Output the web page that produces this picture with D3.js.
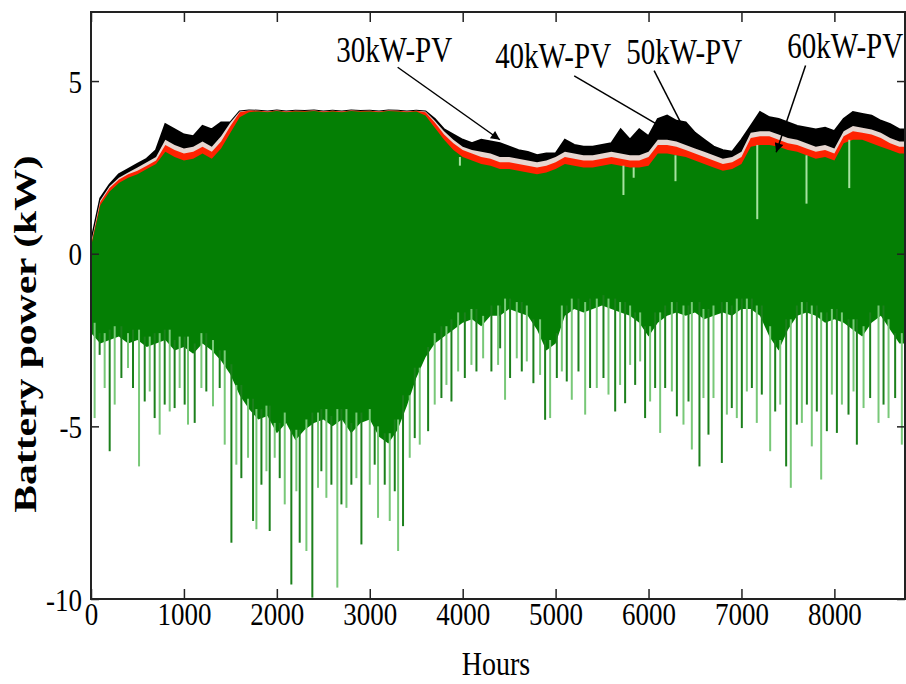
<!DOCTYPE html>
<html>
<head>
<meta charset="utf-8">
<script src="https://cdn.jsdelivr.net/npm/d3@7"></script>
<style>
  body { margin: 0; background: #fff; }
  svg { display: block; }
</style>
</head>
<body>
<div id="chart"></div>
<script>
// hour of each reading (every 100 h)
var binHours = [0,100,200,300,400,500,600,700,800,900,1000,1100,1200,1300,1400,1500,1600,1700,1800,1900,
  2000,2100,2200,2300,2400,2500,2600,2700,2800,2900,3000,3100,3200,3300,3400,3500,3600,3700,3800,3900,
  4000,4100,4200,4300,4400,4500,4600,4700,4800,4900,5000,5100,5200,5300,5400,5500,5600,5700,5800,5900,
  6000,6100,6200,6300,6400,6500,6600,6700,6800,6900,7000,7100,7200,7300,7400,7500,7600,7700,7800,7900,
  8000,8100,8200,8300,8400,8500,8600,8700];

// upper envelope (kW) of each PV case
var pv30Top = [0.2,1.4,1.8,2.05,2.2,2.3,2.45,2.6,2.95,2.8,2.7,2.75,2.9,2.75,3.05,3.5,3.95,4.1,4.12,4.1,
  4.13,4.1,4.12,4.11,4.13,4.1,4.12,4.1,4.13,4.11,4.12,4.1,4.13,4.12,4.1,4.12,4.0,3.65,3.3,3.0,
  2.8,2.7,2.6,2.55,2.45,2.45,2.4,2.35,2.3,2.35,2.45,2.6,2.55,2.5,2.5,2.55,2.6,2.55,2.5,2.5,
  2.55,2.9,2.9,2.85,2.8,2.7,2.6,2.5,2.4,2.45,2.6,3.1,3.15,3.15,3.1,3.0,2.95,2.85,2.75,2.8,
  2.7,3.2,3.3,3.3,3.2,3.1,3.0,2.9];
var pv40Top = [0.25,1.5,1.9,2.15,2.3,2.4,2.55,2.7,3.15,3.0,2.9,2.95,3.1,2.95,3.25,3.7,4.1,4.15,4.14,4.12,
  4.15,4.12,4.14,4.13,4.15,4.12,4.14,4.12,4.15,4.13,4.14,4.12,4.15,4.14,4.12,4.14,4.1,3.8,3.45,3.2,
  3.0,2.9,2.8,2.75,2.65,2.65,2.6,2.55,2.5,2.55,2.65,2.8,2.75,2.7,2.7,2.75,2.8,2.75,2.7,2.7,
  2.8,3.15,3.15,3.1,3.0,2.9,2.8,2.7,2.6,2.65,2.8,3.35,3.4,3.4,3.3,3.2,3.15,3.05,2.95,3.0,
  2.9,3.4,3.55,3.5,3.45,3.35,3.2,3.1];
var pv50Top = [0.3,1.55,1.95,2.2,2.35,2.5,2.65,2.8,3.3,3.15,3.05,3.1,3.25,3.1,3.4,3.8,4.12,4.15,4.14,4.12,
  4.15,4.12,4.14,4.13,4.15,4.12,4.14,4.12,4.15,4.13,4.14,4.12,4.15,4.14,4.12,4.14,4.12,3.85,3.55,3.3,
  3.1,3.0,2.95,2.9,2.8,2.8,2.75,2.7,2.65,2.7,2.8,2.95,2.9,2.85,2.85,2.9,2.95,2.9,2.85,2.85,
  2.95,3.3,3.3,3.25,3.15,3.05,2.95,2.85,2.75,2.8,2.95,3.5,3.55,3.55,3.45,3.35,3.3,3.2,3.1,3.15,
  3.05,3.55,3.7,3.65,3.6,3.5,3.35,3.25];
var pv60Top = [0.35,1.6,2.0,2.3,2.45,2.6,2.75,3.0,3.75,3.6,3.45,3.4,3.7,3.6,3.8,3.8,4.12,4.15,4.14,4.12,
  4.15,4.12,4.14,4.13,4.15,4.12,4.14,4.12,4.15,4.13,4.14,4.12,4.15,4.14,4.12,4.14,4.12,3.9,3.6,3.45,
  3.3,3.2,3.3,3.25,3.2,3.1,3.0,2.95,2.85,2.9,2.9,3.3,3.15,3.1,3.1,3.15,3.2,3.6,3.3,3.6,
  3.4,3.9,4.0,3.85,3.8,3.5,3.3,3.1,3.0,2.95,3.3,3.7,4.1,3.95,3.9,3.8,3.7,3.65,3.6,3.65,
  3.55,3.9,4.1,4.05,4.0,3.85,3.75,3.6];

// lower edge of the solid discharge band (kW)
var solidBottom = [-2.3,-2.6,-2.5,-2.4,-2.6,-2.5,-2.7,-2.6,-2.5,-2.8,-2.7,-2.9,-2.6,-2.8,-3.1,-3.5,-4.1,-4.5,-4.8,-4.7,
  -5.2,-4.9,-5.4,-5.1,-4.9,-4.8,-5.0,-4.8,-5.2,-4.9,-4.8,-5.3,-5.5,-5.1,-4.4,-3.6,-3.0,-2.6,-2.4,-2.2,
  -2.0,-1.9,-2.1,-1.8,-1.8,-1.6,-1.7,-1.8,-2.2,-2.8,-2.6,-1.8,-1.6,-1.7,-1.6,-1.5,-1.6,-1.7,-1.8,-2.0,
  -2.4,-2.0,-1.8,-1.7,-1.8,-1.7,-1.9,-1.8,-1.7,-1.8,-1.6,-1.6,-1.8,-2.4,-2.8,-2.2,-1.8,-1.7,-1.8,-2.0,
  -1.9,-2.0,-2.2,-2.4,-2.0,-1.8,-2.2,-2.6];

// single discharge peaks below the band
var spikeHours = [39,93,147,201,255,327,398,452,517,578,632,685,739,793,847,900,954,1008,1044,1116,
  1188,1241,1313,1385,1439,1511,1564,1618,1690,1744,1780,1834,1888,1923,1977,2031,2085,2156,2210,2246,
  2318,2382,2443,2479,2533,2587,2651,2695,2749,2802,2856,2910,3000,3053,3089,3161,3215,3269,3305,3358,
  3430,3484,3538,3628,3699,3771,3825,3879,3951,4023,4094,4148,4220,4309,4381,4403,4456,4510,4582,4636,
  4690,4761,4833,4887,4941,5013,5067,5120,5174,5246,5318,5371,5443,5515,5569,5641,5694,5748,5802,5856,
  5910,5963,6017,6071,6125,6179,6251,6305,6376,6430,6466,6548,6591,6645,6699,6789,6843,6896,6950,7004,
  7058,7112,7165,7219,7309,7363,7417,7481,7531,7596,7650,7704,7757,7811,7858,7919,7973,8027,8081,8152,
  8206,8242,8314,8385,8475,8529,8583,8654,8726];
var spikeMins = [-4.76,-2.93,-3.89,-5.72,-4.37,-3.6,-3.31,-3.89,-6.16,-4.28,-3.99,-4.76,-5.24,-4.37,-4.57,-4.47,-3.89,-4.37,-4.95,-4.9,
  -3.89,-3.99,-4.42,-3.89,-5.53,-8.37,-6.11,-6.5,-5.91,-7.74,-7.98,-6.69,-6.3,-8.03,-5.91,-6.5,-7.26,-9.58,-6.88,-8.37,
  -8.61,-9.96,-6.78,-6.3,-7.07,-6.69,-9.67,-7.26,-7.36,-6.69,-6.5,-8.42,-6.69,-6.11,-7.65,-6.69,-7.74,-6.88,-8.61,-7.89,
  -5.91,-5.34,-5.53,-5.14,-4.37,-4.18,-3.8,-4.28,-3.41,-3.6,-3.22,-3.41,-3.03,-3.41,-3.22,-2.74,-4.23,-3.6,-3.03,-3.41,
  -3.12,-3.75,-3.51,-4.81,-4.76,-3.6,-3.41,-3.7,-4.23,-3.41,-4.66,-3.89,-3.89,-3.6,-4.08,-4.57,-3.8,-4.33,-3.22,-3.8,
  -3.12,-4.76,-4.28,-3.89,-5.19,-3.89,-3.99,-4.71,-4.95,-4.28,-5.67,-6.16,-4.18,-5.24,-4.18,-6.06,-4.66,-4.47,-4.76,-5.05,
  -3.99,-3.89,-4.9,-4.08,-5.72,-4.57,-4.37,-6.16,-6.78,-4.95,-4.9,-4.37,-5.58,-4.57,-6.54,-5.14,-4.08,-5.19,-4.37,-4.66,
  -3.99,-5.53,-4.47,-4.18,-4.9,-4.37,-4.76,-4.18,-5.53];

// short dips from the top of the band
var dipHours = [3970,5730,5840,6290,7170,7700,8160];
var dipMins = [2.55,1.7,2.2,2.1,1.0,1.45,1.9];

// annotations: label, text anchor (h, kW), arrow start and tip (h, kW)
var labels = ["30kW-PV","40kW-PV","50kW-PV","60kW-PV"];
var labelHours = [3262,4973,6383,8116];
var labelKw = [5.55,5.38,5.49,5.67];
var arrowFrom = [[3300,5.4],[5200,5.15],[6060,5.3],[7690,5.45]];
var arrowTo = [[4400,3.3],[6286,3.44],[6469,3.15],[7374,2.94]];

var xTicks = [0,1000,2000,3000,4000,5000,6000,7000,8000];
var yTicks = [-10,-5,0,5];

var svgWidth = 906, svgHeight = 684;
var margin = {top: 12, right: 1, bottom: 85, left: 91};
var width = svgWidth - margin.left - margin.right;
var height = svgHeight - margin.top - margin.bottom;

var serif = "'Liberation Serif', 'Times New Roman', serif";

var svg = d3.select("#chart")
  .append("svg")
  .attr("width", svgWidth)
  .attr("height", svgHeight);

var chartGroup = svg.append("g")
  .attr("transform", `translate(${margin.left}, ${margin.top})`);

var xScale = d3.scaleLinear().domain([0, 8760]).range([0, width]);
var yScale = d3.scaleLinear().domain([-10, 7]).range([height, 0]);

// readings plus a closing point at the end of the year
var bins = binHours.map(function(h, i) {
  return {h: h, b: solidBottom[i], t30: pv30Top[i], t40: pv40Top[i], t50: pv50Top[i], t60: pv60Top[i]};
});
bins.push(Object.assign({}, bins[bins.length - 1], {h: 8760}));

var plot = chartGroup.append("g");

function topArea(key) {
  return d3.area()
    .x(d => xScale(d.h))
    .y0(d => yScale(0))
    .y1(d => yScale(d[key]));
}

// stacked envelopes, largest PV first
plot.append("path").datum(bins).attr("d", topArea("t60"))
  .attr("fill", "#000").attr("stroke", "#000").attr("stroke-width", 2);
plot.append("path").datum(bins).attr("d", topArea("t50"))
  .attr("fill", "#e6d6d0");
plot.append("path").datum(bins).attr("d", topArea("t40"))
  .attr("fill", "#ff2200");

var band = d3.area()
  .x(d => xScale(d.h))
  .y0(d => yScale(d.b))
  .y1(d => yScale(d.t30));

plot.append("path").datum(bins).attr("d", band).attr("fill", "#047f04");

// discharge spikes
plot.selectAll("line.spike")
  .data(spikeHours)
  .enter()
  .append("line")
  .attr("class", "spike")
  .attr("x1", d => xScale(d))
  .attr("x2", d => xScale(d))
  .attr("y1", d => yScale(solidBottom[Math.min(87, Math.round(d / 100))] + 0.3))
  .attr("y2", (d, i) => yScale(spikeMins[i]))
  .attr("stroke", (d, i) => i % 2 ? "#1c801c" : "#78c878")
  .attr("stroke-width", 2);

// light dips from the band top
plot.selectAll("line.dip")
  .data(dipHours)
  .enter()
  .append("line")
  .attr("class", "dip")
  .attr("x1", d => xScale(d))
  .attr("x2", d => xScale(d))
  .attr("y1", d => yScale(pv30Top[Math.round(d / 100)]))
  .attr("y2", (d, i) => yScale(dipMins[i]))
  .attr("stroke", "#a6e2a0")
  .attr("stroke-width", 2);

// axes on all four sides, ticks pointing inwards
var fmt = d => d < 0 ? "-" + Math.abs(d) : String(d);

var xAxis = chartGroup.append("g")
  .attr("transform", `translate(0, ${height})`)
  .call(d3.axisBottom(xScale).tickValues(xTicks).tickFormat(fmt).tickSizeInner(-10).tickSizeOuter(0));
chartGroup.append("g")
  .call(d3.axisTop(xScale).tickValues(xTicks).tickFormat("").tickSizeInner(-10).tickSizeOuter(0));
var yAxis = chartGroup.append("g")
  .call(d3.axisLeft(yScale).tickValues(yTicks).tickFormat(fmt).tickSizeInner(-8).tickSizeOuter(0));
chartGroup.append("g")
  .attr("transform", `translate(${width}, 0)`)
  .call(d3.axisRight(yScale).tickValues(yTicks).tickFormat("").tickSizeInner(-8).tickSizeOuter(0));

chartGroup.selectAll(".domain").remove();
chartGroup.selectAll(".tick line").attr("stroke", "#222").attr("stroke-width", 1.5);

xAxis.selectAll("text")
  .attr("y", null).attr("dy", null)
  .attr("transform", "translate(0, 26) scale(1, 1.2)")
  .attr("font-family", serif)
  .attr("font-size", "27px")
  .attr("fill", "#000");

yAxis.selectAll("text")
  .attr("x", null).attr("dy", null)
  .attr("transform", "translate(-9, 11) scale(1, 1.2)")
  .attr("font-family", serif)
  .attr("font-size", "27px")
  .attr("fill", "#000");

chartGroup.append("rect")
  .attr("width", width)
  .attr("height", height)
  .attr("fill", "none")
  .attr("stroke", "#222")
  .attr("stroke-width", 2);

// arrows and labels
svg.append("defs").append("marker")
  .attr("id", "head")
  .attr("viewBox", "0 0 10 10")
  .attr("refX", 10).attr("refY", 5)
  .attr("markerWidth", 15).attr("markerHeight", 9)
  .attr("markerUnits", "userSpaceOnUse")
  .attr("orient", "auto")
  .append("path")
  .attr("d", "M0,0 L10,5 L0,10 z")
  .attr("fill", "#000");

chartGroup.selectAll("line.arrow")
  .data(arrowFrom)
  .enter()
  .append("line")
  .attr("class", "arrow")
  .attr("x1", d => xScale(d[0]))
  .attr("y1", d => yScale(d[1]))
  .attr("x2", (d, i) => xScale(arrowTo[i][0]))
  .attr("y2", (d, i) => yScale(arrowTo[i][1]))
  .attr("stroke", "#000")
  .attr("stroke-width", 1.5)
  .attr("marker-end", "url(#head)");

chartGroup.selectAll("text.pv")
  .data(labels)
  .enter()
  .append("text")
  .attr("class", "pv")
  .attr("transform", (d, i) => `translate(${xScale(labelHours[i])}, ${yScale(labelKw[i])}) scale(1, 1.2)`)
  .attr("text-anchor", "middle")
  .attr("font-family", serif)
  .attr("font-size", "29px")
  .text(d => d);

// axis titles
svg.append("text")
  .attr("transform", `translate(${margin.left + width / 2 - 2}, 675) scale(1, 1.2)`)
  .attr("text-anchor", "middle")
  .attr("font-family", serif)
  .attr("font-size", "28px")
  .text("Hours");

svg.append("text")
  .attr("transform", "translate(36, 334) rotate(-90) scale(1.3, 1)")
  .attr("text-anchor", "middle")
  .attr("font-family", serif)
  .attr("font-weight", "bold")
  .attr("font-size", "32px")
  .text("Battery power (kW)");
</script>
</body>
</html>
